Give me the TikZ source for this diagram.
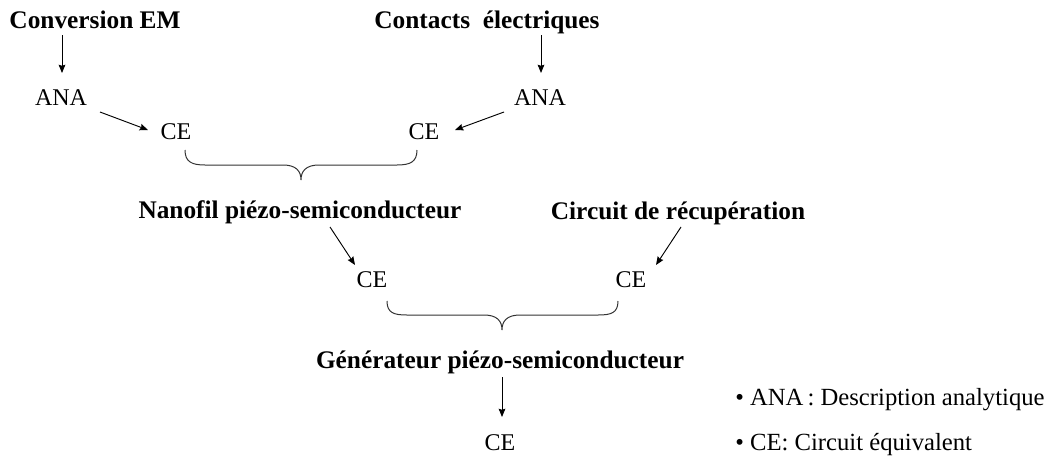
\documentclass[tikz,border=0pt]{standalone}
\usepackage{fontspec}
\setmainfont{Liberation Serif}
\usetikzlibrary{arrows.meta,calc}
\tikzset{
  lbl/.style={font=\fontsize{19}{22}\selectfont\bfseries, inner sep=0pt, anchor=base},
  txt/.style={font=\fontsize{18}{21}\selectfont, inner sep=0pt, anchor=base},
  leg/.style={font=\fontsize{18.5}{21}\selectfont, inner sep=0pt, anchor=base west},
  arr/.style={-{Stealth[length=6.2pt,width=5pt,inset=0.8pt]}, line width=0.7pt},
  bracestyle/.style={line width=0.75pt, draw=black!80}
}
\begin{document}
\begin{tikzpicture}[x=0.75pt,y=-0.75pt]
\useasboundingbox (0,0) rectangle (1052,457);
% nodes
\node[lbl] (conv) at (95,28) {Conversion EM};
\node[lbl] (cont) at (487,28) {Contacts\ \ électriques};
\node[txt] (anaL) at (61,105) {ANA};
\node[txt] (anaR) at (540,105) {ANA};
\node[txt] (ceL) at (176,139) {CE};
\node[txt] (ceR) at (424,139) {CE};
\node[lbl] (nano) at (300,218) {Nanofil piézo-semiconducteur};
\node[lbl] (circ) at (678,219) {Circuit de récupération};
\node[txt] (ceML) at (372,287) {CE};
\node[txt] (ceMR) at (631,287) {CE};
\node[lbl] (gen) at (500,368) {Générateur piézo-semiconducteur};
\node[txt] (ceB) at (500,450) {CE};
\node[leg] (leg1) at (735,405) {• ANA\,: Description analytique};
\node[leg] (leg2) at (735,450) {• CE: Circuit équivalent};
% arrows
\draw[arr] ($(conv.base -| anaL.base)+(1,7)$) -- ($(anaL.base)+(1,-32)$);
\draw[arr] ($(anaL.base)+(39,7)$) -- ($(ceL.base)+(-28,-9)$);
\draw[arr] ($(cont.base -| anaR.base)+(1,7)$) -- ($(anaR.base)+(1,-32)$);
\draw[arr] ($(anaR.base)+(-36,7)$) -- ($(ceR.base)+(31,-9)$);
\draw[arr] ($(nano.base)+(30,9)$) -- ($(ceML.base)+(-17,-22)$);
\draw[arr] ($(circ.base)+(3,8)$) -- ($(ceMR.base)+(25,-22)$);
\draw[arr] ($(gen.base)+(2,9)$) -- ($(ceB.base)+(2,-33)$);
% braces
\coordinate (b1l) at (185,150);
\coordinate (b1r) at (417,150);
\draw[bracestyle] (b1l) .. controls +(0,12) and +(-13,0) .. (205,165)
  -- (283,165) .. controls +(13,0) and +(0,-9) .. (301,180)
  .. controls +(0,-9) and +(-13,0) .. (319,165)
  -- (397,165) .. controls +(13,0) and +(0,12) .. (b1r);
\coordinate (b2l) at (387,301);
\coordinate (b2r) at (618,301);
\draw[bracestyle] (b2l) .. controls +(0,12) and +(-13,0) .. (407,315)
  -- (484,315) .. controls +(13,0) and +(0,-9) .. (502,330)
  .. controls +(0,-9) and +(-13,0) .. (520,315)
  -- (598,315) .. controls +(13,0) and +(0,12) .. (b2r);
\end{tikzpicture}
\end{document}
